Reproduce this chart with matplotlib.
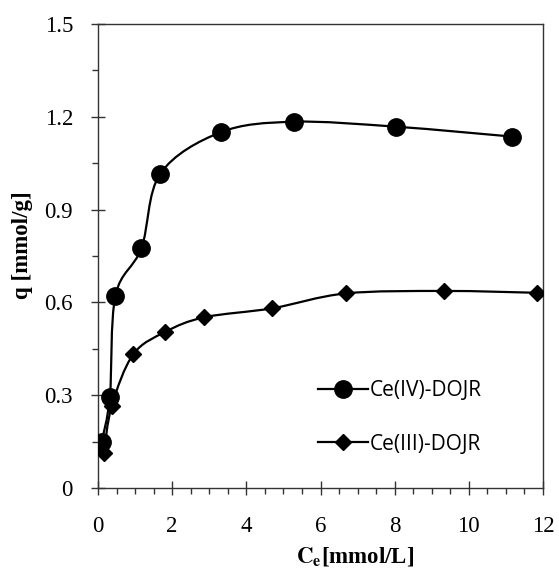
import numpy as np
import matplotlib
matplotlib.use("Agg")
import matplotlib.pyplot as plt
from matplotlib.path import Path
from matplotlib.patches import PathPatch
from matplotlib.lines import Line2D

# Data
ce4_x = [0.10, 0.32, 0.47, 1.17, 1.68, 3.31, 5.28, 8.04, 11.17]
ce4_q = [0.150, 0.295, 0.622, 0.775, 1.016, 1.150, 1.184, 1.168, 1.136]
ce3_x = [0.16, 0.37, 0.95, 1.82, 2.87, 4.70, 6.68, 9.34, 11.85]
ce3_q = [0.114, 0.265, 0.432, 0.505, 0.552, 0.581, 0.629, 0.637, 0.631]
labels = ["Ce(IV)-DOJR", "Ce(III)-DOJR"]

plt.rcParams['font.family'] = ['Liberation Serif', 'DejaVu Serif']
plt.rcParams['mathtext.fontset'] = 'stix'


# Excel-style smoothed line: cubic Bezier segments through the points
def smooth_path(xs, ys):
    p = np.column_stack([xs, ys])
    n = len(p)
    verts = [p[0]]
    codes = [Path.MOVETO]
    for i in range(n - 1):
        prev = p[i - 1] if i > 0 else p[i]
        nxt = p[i + 2] if i + 2 < n else p[i + 1]
        c1 = p[i] + (p[i + 1] - prev) / 6.0
        c2 = p[i + 1] - (nxt - p[i]) / 6.0
        verts += [c1, c2, p[i + 1]]
        codes += [Path.CURVE4] * 3
    return Path(verts, codes)


fig = plt.figure(figsize=(5.59, 5.71), dpi=100)
ax = fig.add_axes([98 / 559, 1 - 488 / 571, 445 / 559, 464 / 571])

for xs, ys in [(ce4_x, ce4_q), (ce3_x, ce3_q)]:
    ax.add_patch(PathPatch(smooth_path(xs, ys), facecolor='none',
                           edgecolor='black', lw=1.6, zorder=2))

ax.plot(ce4_x, ce4_q, 'o', color='black', ms=12.5, zorder=3)
ax.plot(ce3_x, ce3_q, 'D', color='black', ms=8.5, zorder=3)

ax.set_xlim(0, 12)
ax.set_ylim(0, 1.5)
ax.set_xticks(np.arange(0, 13, 2))
ax.set_xticks(np.arange(0, 12.01, 0.5), minor=True)
ax.set_yticks([0, 0.3, 0.6, 0.9, 1.2, 1.5])
ax.set_yticklabels(['0', '0.3', '0.6', '0.9', '1.2', '1.5'])
ax.set_yticks(np.arange(0, 1.51, 0.15), minor=True)
ax.tick_params(which='major', direction='inout', length=10, width=1,
               labelsize=16.5, color='#333333')
ax.tick_params(which='minor', direction='out', length=4.5, width=1,
               color='#333333')
ax.tick_params(axis='x', which='major', pad=15)
ax.tick_params(axis='y', which='major', pad=13)
for s in ax.spines.values():
    s.set_linewidth(1)
    s.set_color('#333333')

ax.set_xlabel(r'$\mathbf{C_e}$[mmol/L]', fontsize=16.5, fontweight='bold')
ax.xaxis.set_label_coords(0.578, -0.123)
ax.set_ylabel('q [mmol/g]', fontsize=16.5, fontweight='bold')
ax.yaxis.set_label_coords(-0.146, 0.524)

handles = [Line2D([], [], color='black', lw=1.6, marker='o', ms=12.5),
           Line2D([], [], color='black', lw=1.6, marker='D', ms=8.5)]
ax.legend(handles, labels, loc='upper left', bbox_to_anchor=(0.494, 0.232),
          frameon=False, borderpad=0, borderaxespad=0, handlelength=2.4,
          handletextpad=0.1, labelspacing=1.55,
          prop={'family': 'Open Sans', 'size': 15})

fig.savefig('out.png', dpi=100)
